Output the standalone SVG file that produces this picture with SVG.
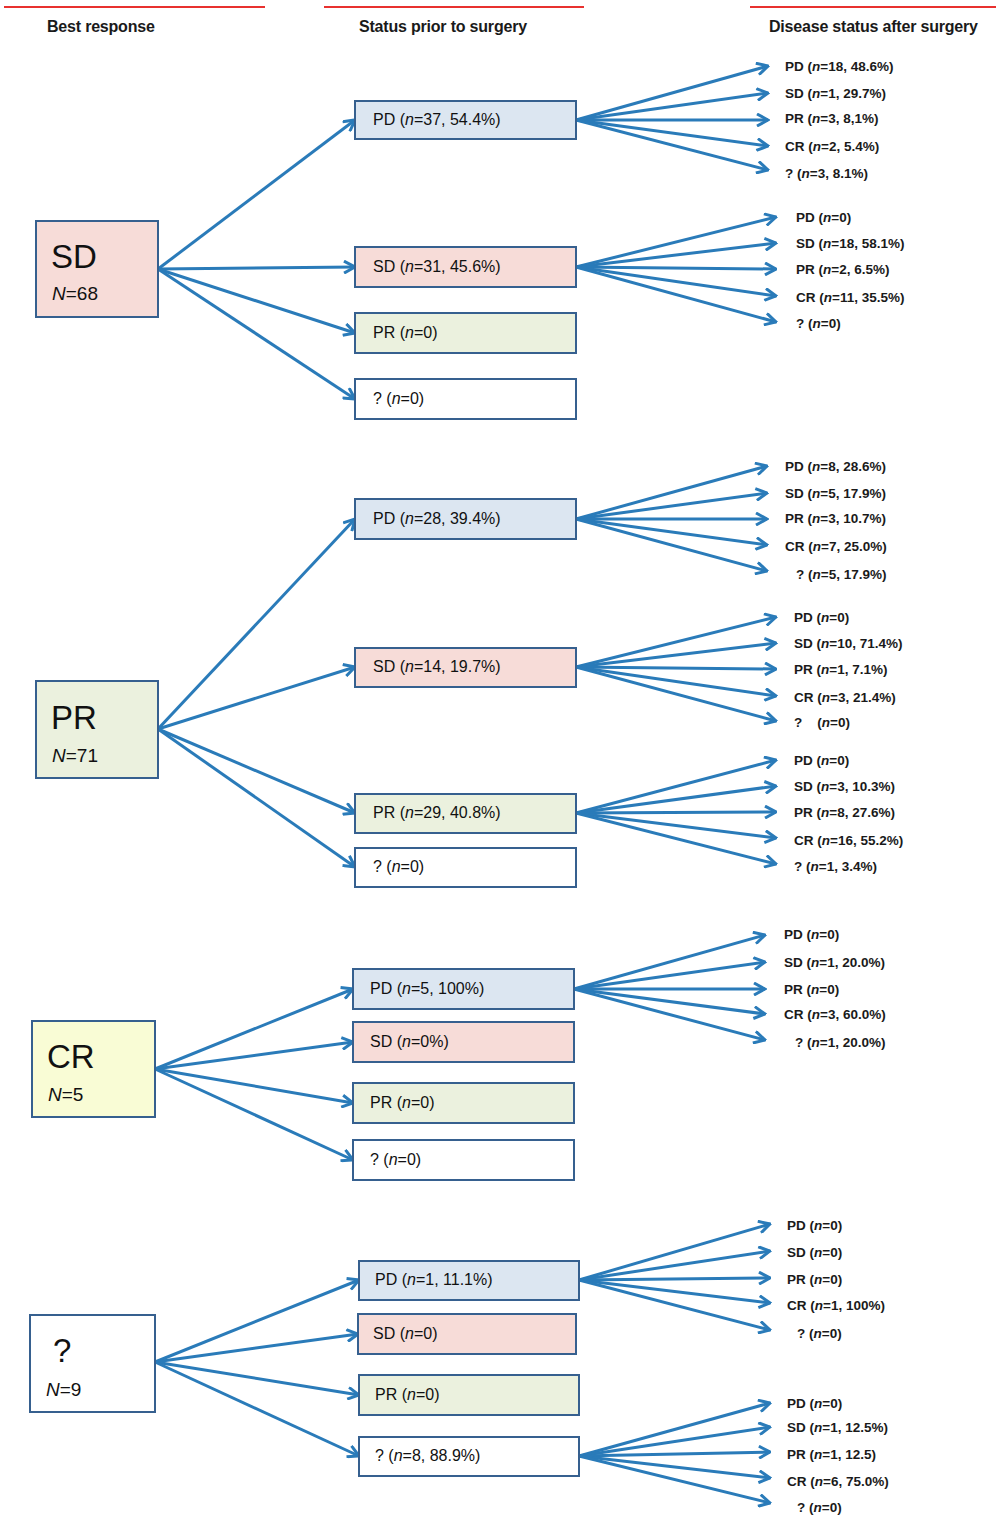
<svg xmlns="http://www.w3.org/2000/svg" width="996" height="1515" viewBox="0 0 996 1515">
<style>
.hdr{font-family:"Liberation Sans",Arial,sans-serif;font-size:16px;font-weight:bold;fill:#1a1a1a;letter-spacing:-0.2px}
.big{font-family:"Liberation Sans",Arial,sans-serif;font-size:33px;fill:#111}
.nn{font-family:"Liberation Sans",Arial,sans-serif;font-size:19px;fill:#111}
.mid{font-family:"Liberation Sans",Arial,sans-serif;font-size:16px;fill:#111}
.out{font-family:"Liberation Sans",Arial,sans-serif;font-size:13.5px;font-weight:bold;fill:#1a1a1a}
.i{font-style:italic}
.box{stroke:#36608f;stroke-width:2}
.bpd{fill:#dce6f1}
.bsd{fill:#f7dcd8}
.bpr{fill:#ebf1de}
.bcr{fill:#f9fcd5}
.bq{fill:#ffffff}
.red{stroke:#e8312f;stroke-width:2}
#connectors line{stroke:#2a7bb9;stroke-width:3;marker-end:url(#ah)}
</style>
<defs>
<marker id="ah" viewBox="0 0 14 14" refX="12.5" refY="7" markerWidth="14" markerHeight="14" markerUnits="userSpaceOnUse" orient="auto">
<path d="M1.5,1 L12.5,7 L1.5,13" fill="none" stroke="#2a7bb9" stroke-width="3" stroke-linejoin="miter"/>
</marker>
</defs>
<rect width="996" height="1515" fill="#fff"/>
<g id="headers">
<line class="red" x1="4" y1="7" x2="265" y2="7"/>
<line class="red" x1="324" y1="7" x2="584" y2="7"/>
<line class="red" x1="750" y1="7" x2="996" y2="7"/>
<text class="hdr" x="47" y="32">Best response</text>
<text class="hdr" x="359" y="32">Status prior to surgery</text>
<text class="hdr" x="769" y="32">Disease status after surgery</text>
</g>
<g id="connectors">
<line x1="158" y1="269" x2="355" y2="120"/>
<line x1="158" y1="269" x2="355" y2="267"/>
<line x1="158" y1="269" x2="355" y2="333"/>
<line x1="158" y1="269" x2="355" y2="399"/>
<line x1="576" y1="120" x2="768" y2="66"/>
<line x1="576" y1="120" x2="768" y2="93"/>
<line x1="576" y1="120" x2="768" y2="120"/>
<line x1="576" y1="120" x2="768" y2="146"/>
<line x1="576" y1="120" x2="768" y2="170"/>
<line x1="576" y1="267" x2="776" y2="217"/>
<line x1="576" y1="267" x2="776" y2="243"/>
<line x1="576" y1="267" x2="776" y2="269"/>
<line x1="576" y1="267" x2="776" y2="296"/>
<line x1="576" y1="267" x2="776" y2="322"/>
<line x1="158" y1="729" x2="355" y2="519"/>
<line x1="158" y1="729" x2="355" y2="667"/>
<line x1="158" y1="729" x2="355" y2="813"/>
<line x1="158" y1="729" x2="355" y2="867"/>
<line x1="576" y1="519" x2="767" y2="466"/>
<line x1="576" y1="519" x2="767" y2="493"/>
<line x1="576" y1="519" x2="767" y2="519"/>
<line x1="576" y1="519" x2="767" y2="545"/>
<line x1="576" y1="519" x2="767" y2="571"/>
<line x1="576" y1="667" x2="776" y2="617"/>
<line x1="576" y1="667" x2="776" y2="643"/>
<line x1="576" y1="667" x2="776" y2="669"/>
<line x1="576" y1="667" x2="776" y2="696"/>
<line x1="576" y1="667" x2="776" y2="721"/>
<line x1="576" y1="813" x2="776" y2="760"/>
<line x1="576" y1="813" x2="776" y2="786"/>
<line x1="576" y1="813" x2="776" y2="812"/>
<line x1="576" y1="813" x2="776" y2="838"/>
<line x1="576" y1="813" x2="776" y2="864"/>
<line x1="155" y1="1069" x2="353" y2="989"/>
<line x1="155" y1="1069" x2="353" y2="1042"/>
<line x1="155" y1="1069" x2="353" y2="1103"/>
<line x1="155" y1="1069" x2="353" y2="1160"/>
<line x1="574" y1="989" x2="765" y2="935"/>
<line x1="574" y1="989" x2="765" y2="962"/>
<line x1="574" y1="989" x2="765" y2="989"/>
<line x1="574" y1="989" x2="765" y2="1014"/>
<line x1="574" y1="989" x2="765" y2="1040"/>
<line x1="155" y1="1362" x2="359" y2="1280"/>
<line x1="155" y1="1362" x2="358" y2="1334"/>
<line x1="155" y1="1362" x2="359" y2="1395"/>
<line x1="155" y1="1362" x2="359" y2="1456"/>
<line x1="579" y1="1280" x2="770" y2="1224"/>
<line x1="579" y1="1280" x2="770" y2="1251"/>
<line x1="579" y1="1280" x2="770" y2="1278"/>
<line x1="579" y1="1280" x2="770" y2="1303"/>
<line x1="579" y1="1280" x2="770" y2="1330"/>
<line x1="579" y1="1456" x2="770" y2="1403"/>
<line x1="579" y1="1456" x2="770" y2="1427"/>
<line x1="579" y1="1456" x2="770" y2="1452"/>
<line x1="579" y1="1456" x2="770" y2="1478"/>
<line x1="579" y1="1456" x2="770" y2="1503"/>
</g>
<!-- Best response boxes -->
<g id="best-sd"><rect class="box bsd" x="36" y="221" width="122" height="96"/><text class="big" x="51" y="268">SD</text><text class="nn" x="52" y="300"><tspan class="i">N</tspan>=68</text></g>
<g id="best-pr"><rect class="box bpr" x="36" y="681" width="122" height="97"/><text class="big" x="51" y="729">PR</text><text class="nn" x="52" y="762"><tspan class="i">N</tspan>=71</text></g>
<g id="best-cr"><rect class="box bcr" x="32" y="1021" width="123" height="96"/><text class="big" x="47" y="1068">CR</text><text class="nn" x="48" y="1101"><tspan class="i">N</tspan>=5</text></g>
<g id="best-q"><rect class="box bq" x="30" y="1315" width="125" height="97"/><text class="big" x="53" y="1362">?</text><text class="nn" x="46" y="1396"><tspan class="i">N</tspan>=9</text></g>
<!-- Status prior to surgery: SD group -->
<g id="sd-pd"><rect class="box bpd" x="355" y="101" width="221" height="38"/><text class="mid" x="373" y="125">PD (<tspan class="i">n</tspan>=37, 54.4%)</text></g>
<g id="sd-sd"><rect class="box bsd" x="355" y="247" width="221" height="40"/><text class="mid" x="373" y="272">SD (<tspan class="i">n</tspan>=31, 45.6%)</text></g>
<g id="sd-pr"><rect class="box bpr" x="355" y="313" width="221" height="40"/><text class="mid" x="373" y="338">PR (<tspan class="i">n</tspan>=0)</text></g>
<g id="sd-q"><rect class="box bq" x="355" y="379" width="221" height="40"/><text class="mid" x="373" y="404">? (<tspan class="i">n</tspan>=0)</text></g>
<!-- PR group -->
<g id="pr-pd"><rect class="box bpd" x="355" y="499" width="221" height="40"/><text class="mid" x="373" y="524">PD (<tspan class="i">n</tspan>=28, 39.4%)</text></g>
<g id="pr-sd"><rect class="box bsd" x="355" y="648" width="221" height="39"/><text class="mid" x="373" y="672">SD (<tspan class="i">n</tspan>=14, 19.7%)</text></g>
<g id="pr-pr"><rect class="box bpr" x="355" y="794" width="221" height="39"/><text class="mid" x="373" y="818">PR (<tspan class="i">n</tspan>=29, 40.8%)</text></g>
<g id="pr-q"><rect class="box bq" x="355" y="848" width="221" height="39"/><text class="mid" x="373" y="872">? (<tspan class="i">n</tspan>=0)</text></g>
<!-- CR group -->
<g id="cr-pd"><rect class="box bpd" x="353" y="969" width="221" height="40"/><text class="mid" x="370" y="994">PD (<tspan class="i">n</tspan>=5, 100%)</text></g>
<g id="cr-sd"><rect class="box bsd" x="353" y="1022" width="221" height="40"/><text class="mid" x="370" y="1047">SD (<tspan class="i">n</tspan>=0%)</text></g>
<g id="cr-pr"><rect class="box bpr" x="353" y="1083" width="221" height="40"/><text class="mid" x="370" y="1108">PR (<tspan class="i">n</tspan>=0)</text></g>
<g id="cr-q"><rect class="box bq" x="353" y="1140" width="221" height="40"/><text class="mid" x="370" y="1165">? (<tspan class="i">n</tspan>=0)</text></g>
<!-- ? group -->
<g id="q-pd"><rect class="box bpd" x="359" y="1261" width="220" height="39"/><text class="mid" x="375" y="1285">PD (<tspan class="i">n</tspan>=1, 11.1%)</text></g>
<g id="q-sd"><rect class="box bsd" x="358" y="1314" width="218" height="40"/><text class="mid" x="373" y="1339">SD (<tspan class="i">n</tspan>=0)</text></g>
<g id="q-pr"><rect class="box bpr" x="359" y="1375" width="220" height="40"/><text class="mid" x="375" y="1400">PR (<tspan class="i">n</tspan>=0)</text></g>
<g id="q-q"><rect class="box bq" x="359" y="1437" width="220" height="39"/><text class="mid" x="375" y="1461">? (<tspan class="i">n</tspan>=8, 88.9%)</text></g>
<!-- Disease status after surgery -->
<g id="out-sd-pd">
<text class="out" x="785" y="71">PD (<tspan class="i">n</tspan>=18, 48.6%)</text>
<text class="out" x="785" y="98">SD (<tspan class="i">n</tspan>=1, 29.7%)</text>
<text class="out" x="785" y="123">PR (<tspan class="i">n</tspan>=3, 8,1%)</text>
<text class="out" x="785" y="151">CR (<tspan class="i">n</tspan>=2, 5.4%)</text>
<text class="out" x="785" y="178">? (<tspan class="i">n</tspan>=3, 8.1%)</text>
</g>
<g id="out-sd-sd">
<text class="out" x="796" y="222">PD (<tspan class="i">n</tspan>=0)</text>
<text class="out" x="796" y="248">SD (<tspan class="i">n</tspan>=18, 58.1%)</text>
<text class="out" x="796" y="274">PR (<tspan class="i">n</tspan>=2, 6.5%)</text>
<text class="out" x="796" y="302">CR (<tspan class="i">n</tspan>=11, 35.5%)</text>
<text class="out" x="796" y="328">? (<tspan class="i">n</tspan>=0)</text>
</g>
<g id="out-pr-pd">
<text class="out" x="785" y="471">PD (<tspan class="i">n</tspan>=8, 28.6%)</text>
<text class="out" x="785" y="498">SD (<tspan class="i">n</tspan>=5, 17.9%)</text>
<text class="out" x="785" y="523">PR (<tspan class="i">n</tspan>=3, 10.7%)</text>
<text class="out" x="785" y="551">CR (<tspan class="i">n</tspan>=7, 25.0%)</text>
<text class="out" x="796" y="579">? (<tspan class="i">n</tspan>=5, 17.9%)</text>
</g>
<g id="out-pr-sd">
<text class="out" x="794" y="622">PD (<tspan class="i">n</tspan>=0)</text>
<text class="out" x="794" y="648">SD (<tspan class="i">n</tspan>=10, 71.4%)</text>
<text class="out" x="794" y="674">PR (<tspan class="i">n</tspan>=1, 7.1%)</text>
<text class="out" x="794" y="702">CR (<tspan class="i">n</tspan>=3, 21.4%)</text>
<text class="out" x="794" y="727" xml:space="preserve">?    (<tspan class="i">n</tspan>=0)</text>
</g>
<g id="out-pr-pr">
<text class="out" x="794" y="765">PD (<tspan class="i">n</tspan>=0)</text>
<text class="out" x="794" y="791">SD (<tspan class="i">n</tspan>=3, 10.3%)</text>
<text class="out" x="794" y="817">PR (<tspan class="i">n</tspan>=8, 27.6%)</text>
<text class="out" x="794" y="845">CR (<tspan class="i">n</tspan>=16, 55.2%)</text>
<text class="out" x="794" y="871">? (<tspan class="i">n</tspan>=1, 3.4%)</text>
</g>
<g id="out-cr-pd">
<text class="out" x="784" y="939">PD (<tspan class="i">n</tspan>=0)</text>
<text class="out" x="784" y="967">SD (<tspan class="i">n</tspan>=1, 20.0%)</text>
<text class="out" x="784" y="994">PR (<tspan class="i">n</tspan>=0)</text>
<text class="out" x="784" y="1019">CR (<tspan class="i">n</tspan>=3, 60.0%)</text>
<text class="out" x="795" y="1047">? (<tspan class="i">n</tspan>=1, 20.0%)</text>
</g>
<g id="out-q-pd">
<text class="out" x="787" y="1230">PD (<tspan class="i">n</tspan>=0)</text>
<text class="out" x="787" y="1257">SD (<tspan class="i">n</tspan>=0)</text>
<text class="out" x="787" y="1284">PR (<tspan class="i">n</tspan>=0)</text>
<text class="out" x="787" y="1310">CR (<tspan class="i">n</tspan>=1, 100%)</text>
<text class="out" x="797" y="1338">? (<tspan class="i">n</tspan>=0)</text>
</g>
<g id="out-q-q">
<text class="out" x="787" y="1408">PD (<tspan class="i">n</tspan>=0)</text>
<text class="out" x="787" y="1432">SD (<tspan class="i">n</tspan>=1, 12.5%)</text>
<text class="out" x="787" y="1459">PR (<tspan class="i">n</tspan>=1, 12.5)</text>
<text class="out" x="787" y="1486">CR (<tspan class="i">n</tspan>=6, 75.0%)</text>
<text class="out" x="797" y="1512">? (<tspan class="i">n</tspan>=0)</text>
</g>
</svg>
